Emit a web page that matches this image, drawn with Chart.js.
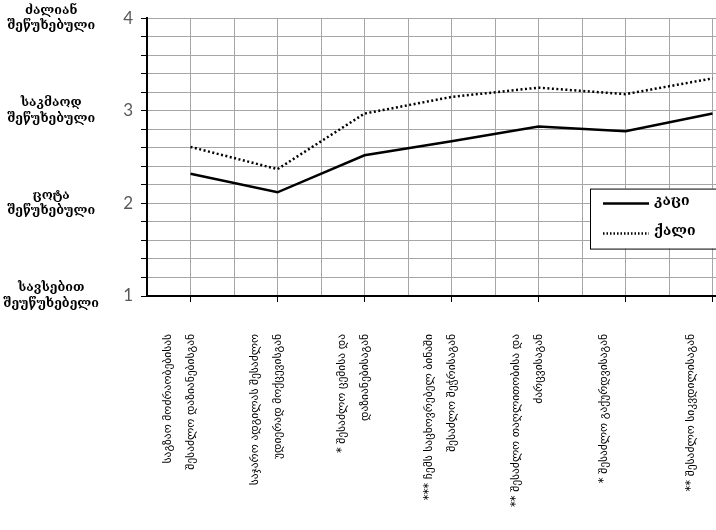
<!DOCTYPE html>
<html>
<head>
<meta charset="utf-8">
<script src="https://cdn.jsdelivr.net/npm/chart.js@4.4.1/dist/chart.umd.min.js"></script>
<style>
  html, body { margin: 0; padding: 0; background: #fff; overflow: hidden; }
</style>
</head>
<body>
<canvas id="grafiki" width="716" height="530"></canvas>
<script>
let ctx = document.getElementById('grafiki')

// კატეგორიები (x ღერძი)
const kategoriebi = [
  ['საგზაო მოძრაობებისას', 'შესაძლო დაზიანებისგან'],
  ['საჯარო ადგილას შესაძლო', 'უდიერად მოქცევისგან'],
  ['* შესაძლო ცემისა და', 'დაზიანებისაგან'],
  ['*** ჩემს საცხოვრებელ ბინაში', 'შესაძლო შეჭრისაგან'],
  ['** შესაძლო თაღლითობისა და', 'ძარცვისაგან'],
  ['* შესაძლო გაქურდვისაგან'],
  ['** შესაძლო სიკვდილისაგან']
]

const kaci = [2.32, 2.12, 2.52, 2.67, 2.83, 2.78, 2.97]
const qali = [2.61, 2.37, 2.97, 3.15, 3.25, 3.18, 3.35]

// y ღერძის სიტყვიერი დონეები
const doneebi = [1, 2, 3, 4]
const doneebisTeqsti = [
  ['სავსებით', 'შეუწუხებელი'],
  ['ცოტა', 'შეწუხებული'],
  ['საკმაოდ', 'შეწუხებული'],
  ['ძალიან', 'შეწუხებული']
]

const serifi = "'DejaVu Serif', 'DejaVu Sans', serif"

const isInt = v => Math.abs(v - Math.round(v)) < 1e-6

// legenda diagramis shignit
const legendaPlugin = {
  id: 'legenda',
  afterDatasetsDraw(chart) {
    const c = chart.ctx
    const area = chart.chartArea
    const x = area.right - 126
    const y = chart.scales.y.getPixelForValue(2.16)
    c.save()
    c.fillStyle = '#fff'
    c.fillRect(x, y, 140, 60)
    c.strokeStyle = '#000'
    c.lineWidth = 1
    c.strokeRect(x + 0.5, y + 0.5, 140, 60)
    chart.data.datasets.forEach((ds, i) => {
      const ly = y + 15 + i * 30
      c.beginPath()
      c.setLineDash(ds.legendDash || [])
      c.lineWidth = ds.borderWidth
      c.strokeStyle = ds.borderColor
      c.moveTo(x + 13, ly)
      c.lineTo(x + 59, ly)
      c.stroke()
      c.setLineDash([])
      c.fillStyle = '#000'
      c.font = 'bold 14px ' + serifi
      c.textBaseline = 'middle'
      c.fillText(ds.label, x + 64, ly - 2)
    })
    c.restore()
  }
}

const data = {
  datasets: [{
    label: 'კაცი',
    data: kaci.map((v, i) => ({ x: i, y: v })),
    borderColor: '#000',
    borderWidth: 2.5,
    pointRadius: 0,
    tension: 0
  }, {
    label: 'ქალი',
    data: qali.map((v, i) => ({ x: i, y: v })),
    borderColor: '#000',
    borderWidth: 2.5,
    borderDash: [2, 2.5],
    legendDash: [1.5, 2],
    borderCapStyle: 'butt',
    pointRadius: 0,
    tension: 0
  }]
}

const config = {
  type: 'line',
  data,
  options: {
    responsive: false,
    animation: false,
    layout: { padding: { top: 16, left: 0, right: 0, bottom: 0 } },
    plugins: {
      legend: { display: false },
      tooltip: { enabled: false }
    },
    scales: {
      x: {
        type: 'linear',
        min: -0.5,
        max: 6.04,
        grid: {
          color: '#a6a6a6',
          lineWidth: 1,
          tickLength: 6,
          tickColor: c => isInt(c.tick.value) ? '#000' : 'rgba(0,0,0,0)'
        },
        border: { color: '#000', width: 2 },
        ticks: {
          stepSize: 0.5,
          includeBounds: false,
          autoSkip: false,
          minRotation: 90,
          maxRotation: 90,
          padding: 32,
          labelOffset: -22,
          color: '#000',
          font: { family: "'DejaVu Sans', sans-serif", size: 11.5, lineHeight: 2 },
          callback: v => isInt(v) && kategoriebi[Math.round(v)] ? kategoriebi[Math.round(v)] : ''
        },
        afterFit: s => { s.height = 234; s.paddingLeft = 0; s.paddingRight = 0 }
      },
      y: {
        min: 1,
        max: 4,
        weight: 0,
        grid: { color: '#a6a6a6', lineWidth: 1, tickLength: 6, tickColor: '#000' },
        border: { color: '#000', width: 2 },
        ticks: {
          stepSize: 0.2,
          autoSkip: false,
          padding: 8,
          color: '#595959',
          font: { family: 'Lato, sans-serif', size: 17 },
          callback: v => isInt(v) ? String(Math.round(v)) : ''
        },
        afterFit: s => { s.width = 40 }
      },
      yTeqsti: {
        type: 'linear',
        position: 'left',
        min: 1,
        max: 4,
        weight: 1,
        grid: { display: false },
        border: { display: false },
        ticks: {
          stepSize: 1,
          autoSkip: false,
          crossAlign: 'center',
          padding: 0,
          color: '#000',
          font: { family: serifi, size: 12.5, weight: 'bold', lineHeight: 1.25 },
          callback: v => {
            const k = doneebi.indexOf(Math.round(v))
            return isInt(v) && k >= 0 ? doneebisTeqsti[k] : ''
          }
        },
        afterFit: s => { s.width = 107 }
      }
    }
  },
  plugins: [legendaPlugin]
}

const graph = new Chart(ctx, config)
</script>
</body>
</html>
